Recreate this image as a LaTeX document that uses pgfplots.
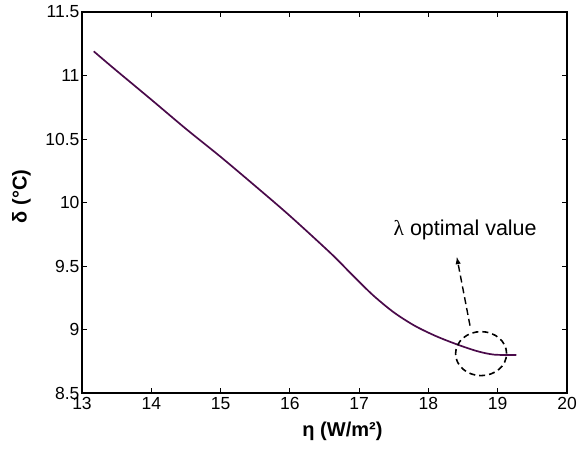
\documentclass[border=0pt]{standalone}
\usepackage{pgfplots}
\pgfplotsset{compat=1.18}
\usepackage{fontspec}
\setmainfont{Liberation Sans}
\newfontfamily\serifgreek{Liberation Serif}
\definecolor{curve}{RGB}{74,10,74}
\begin{document}
\begin{tikzpicture}[x=1pt,y=1pt]
\begin{axis}[
  scale only axis,
  width=485pt, height=381pt,
  xmin=13, xmax=20, ymin=8.5, ymax=11.5,
  xtick={13,14,...,20},
  ytick={8.5,9,9.5,10,10.5,11,11.5},
  yticklabels={8.5,9,9.5,10,10.5,11,11.5},
  xticklabels={13,14,15,16,17,18,19,20},
  /pgf/number format/assume math mode=true,
  tick align=inside,
  major tick length=5pt,
  axis line style={line width=1.3pt},
  tick style={line width=0.9pt, black},
  tick label style={font=\fontsize{17.5}{19}\selectfont},
  yticklabel style={xshift=1pt},
  xticklabel style={yshift=-1pt},
  label style={font=\fontsize{20}{22}\selectfont\bfseries},
  xlabel={η (W/m²)},
  ylabel={δ (°C)},
  xlabel style={at={(axis description cs:0.537,-0.1)}, anchor=center},
  ylabel style={at={(axis description cs:-0.125,0.516)}, anchor=center},
  clip=false,
]
\addplot[color=curve, line width=1.7pt, smooth, tension=0.5] coordinates {
(13.17,11.19) (13.45,11.06) (14.0,10.81) (14.5,10.58) (15.0,10.36)
(15.5,10.13) (16.0,9.895) (16.6,9.595) (16.9,9.43)
(17.2,9.27) (17.5,9.135) (17.8,9.03) (18.1,8.95) (18.4,8.885)
(18.7,8.83) (18.95,8.802) (19.27,8.80)
};
\draw[black, line width=1.6pt, dash pattern=on 6pt off 4pt] (axis cs:18.76,8.81) ellipse [x radius=25.5pt, y radius=22pt];
\draw[black, line width=1.4pt, dash pattern=on 7pt off 4pt, -latex] (axis cs:18.60,9.03) -- (axis cs:18.41,9.57);
\node[font=\fontsize{21.5}{23}\selectfont] at (axis cs:18.53,9.78) {{\serifgreek λ} optimal value};
\coordinate (ll) at (rel axis cs:0,0);
\coordinate (ur) at (rel axis cs:1,1);
\end{axis}
\pgfresetboundingbox
\path ([shift={(-82pt,-58pt)}]ll) rectangle ([shift={(21pt,12pt)}]ur);
\end{tikzpicture}
\end{document}
